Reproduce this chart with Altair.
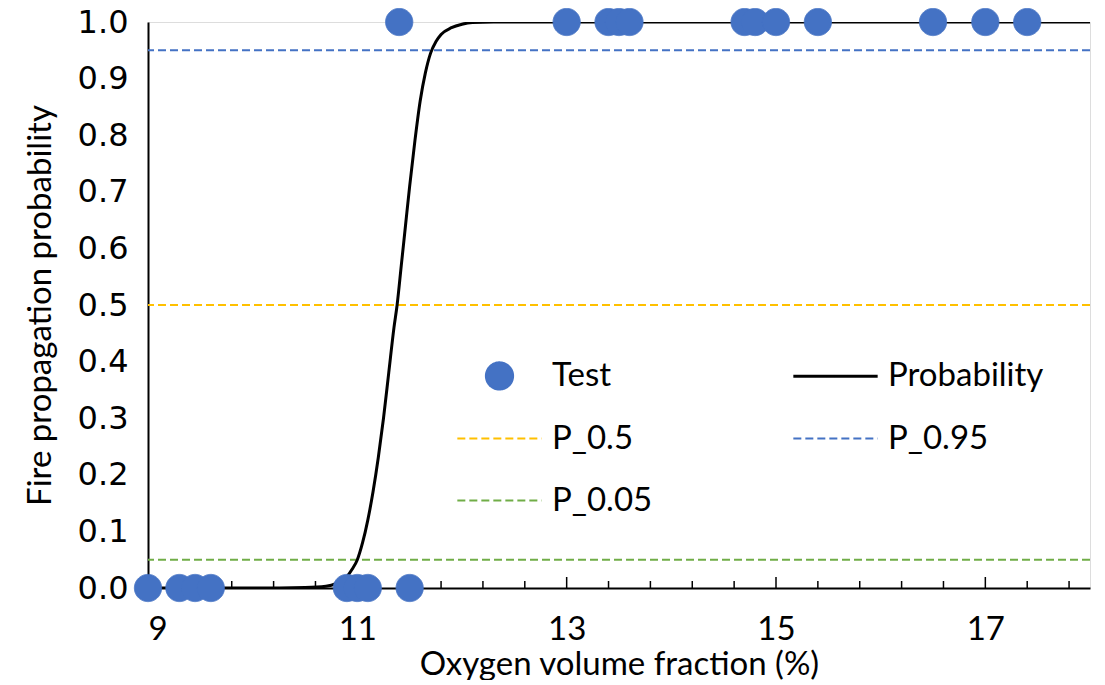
import altair as alt
import pandas as pd

# ---------------- data ----------------
TEST_X_NO_FIRE = [9.0, 9.3, 9.45, 9.6, 10.9, 11.0, 11.1, 11.5]
TEST_X_FIRE = [11.4, 13.0, 13.4, 13.5, 13.6, 14.7, 14.8, 15.0, 15.4, 16.5, 17.0, 17.4]

CURVE_X = [9.0, 10.0, 10.5, 10.7, 10.8, 10.9, 10.95, 11.0, 11.05, 11.1, 11.15, 11.2,
           11.25, 11.3, 11.35, 11.38, 11.42, 11.46, 11.5, 11.55, 11.6, 11.65, 11.7,
           11.75, 11.8, 11.9, 12.0, 12.1, 12.3, 13.0, 18.0]
CURVE_P = [0.0, 0.0, 0.001, 0.003, 0.008, 0.02, 0.033, 0.05, 0.08, 0.12, 0.17, 0.23,
           0.30, 0.38, 0.46, 0.50, 0.57, 0.64, 0.71, 0.79, 0.86, 0.91, 0.945,
           0.965, 0.978, 0.99, 0.996, 0.999, 1.0, 1.0, 1.0]

LEVEL_VALUES = [0.05, 0.5, 0.95]
LEVEL_NAMES = ["P_0.05", "P_0.5", "P_0.95"]

# legend entries (filled column by column: Test, P_0.5, P_0.05 | Probability, P_0.95)
SERIES = ["Test", "P_0.5", "P_0.05", "Probability", "P_0.95"]

X_MAJOR = [9, 11, 13, 15, 17]
X_MINOR = [9.4, 9.8, 10.2, 10.6, 11.4, 11.8, 12.2, 12.6, 13.4, 13.8, 14.2, 14.6,
           15.4, 15.8, 16.2, 16.6, 17.4, 17.8]
Y_TICKS = [0.0, 0.1, 0.2, 0.3, 0.4, 0.5, 0.6, 0.7, 0.8, 0.9, 1.0]

# ---------------- styles ----------------
BLUE, YELLOW, GREEN, BLACK = "#4472C4", "#FFC000", "#70AD47", "#000000"
LEVEL_COLORS = {"P_0.05": GREEN, "P_0.5": YELLOW, "P_0.95": BLUE}
SERIES_COLORS = [BLUE, YELLOW, GREEN, BLACK, BLUE]
LINE_PATH = "M-3.1,0H3.1"
THICK_PATH = "M-3.1,-0.04H3.1M-3.1,0.04H3.1"
SERIES_SHAPES = ["circle", LINE_PATH, LINE_PATH, THICK_PATH, LINE_PATH]
SERIES_DASHES = [[1, 0], [8, 4], [8, 4], [1, 0], [8, 4]]

FONT = "Lato"
NUM_FONT = "DejaVu Sans"
W, H = 942, 566

points = pd.DataFrame({
    "x": TEST_X_NO_FIRE + TEST_X_FIRE,
    "y": [0] * len(TEST_X_NO_FIRE) + [1] * len(TEST_X_FIRE),
    "series": ["Test"] * (len(TEST_X_NO_FIRE) + len(TEST_X_FIRE)),
})
curve = pd.DataFrame({"x": CURVE_X, "p": CURVE_P})
major = pd.DataFrame({"x": X_MAJOR})
minor = pd.DataFrame({"x": X_MINOR})

xscale = alt.Scale(domain=[9, 18], nice=False, zero=False)
yscale = alt.Scale(domain=[0, 1], nice=False)

x_axis = alt.Axis(values=X_MAJOR, title="Oxygen volume fraction (%)", grid=False,
                  ticks=False, labelFont=FONT, labelFontSize=33, labelColor="#000",
                  labelPadding=25, domainColor="#000", domainWidth=2,
                  titleFont=FONT, titleFontSize=33, titleFontWeight="normal",
                  titleColor="#000", titleBaseline="alphabetic", titleY=86)
y_axis = alt.Axis(values=Y_TICKS, format=".1f", title="Fire propagation probability",
                  grid=False, ticks=False, labelFont=NUM_FONT, labelFontSize=32,
                  labelColor="#000", labelPadding=20, domainColor="#000", domainWidth=2,
                  titleFont=FONT, titleFontSize=33, titleFontWeight="normal",
                  titleColor="#000", titleBaseline="alphabetic", titleX=-98, titleY=H / 2,
                  titleAngle=270)

base_x = alt.X("x:Q", scale=xscale, axis=x_axis)

# dashed probability levels
level_layers = []
for name, val in zip(LEVEL_NAMES, LEVEL_VALUES):
    level_layers.append(
        alt.Chart(pd.DataFrame({"p": [val]})).mark_rule(
            color=LEVEL_COLORS[name], strokeWidth=2, strokeDash=[8, 4]
        ).encode(y=alt.Y("p:Q", scale=yscale, axis=y_axis))
    )

# inward tick marks on the x axis
minor_ticks = alt.Chart(minor).mark_rule(color="#000", strokeWidth=1.5).encode(
    x=base_x, y=alt.value(H), y2=alt.value(H - 7))
major_ticks = alt.Chart(major).mark_rule(color="#000", strokeWidth=1.5).encode(
    x=base_x, y=alt.value(H), y2=alt.value(H - 11))

curve_layer = alt.Chart(curve).mark_line(
    color=BLACK, strokeWidth=3, interpolate="monotone", clip=True
).encode(x=base_x, y=alt.Y("p:Q", scale=yscale, axis=y_axis))

legend = alt.Legend(title=None, orient="none", legendX=335, legendY=337, columns=2,
                    columnPadding=136, rowPadding=28, padding=0,
                    labelFont=FONT, labelFontSize=33, labelColor="#000",
                    labelOffset=36, labelLimit=0, symbolSize=740,
                    symbolStrokeWidth=2)


def sc(rng):
    return alt.Scale(domain=SERIES, range=rng)


point_layer = alt.Chart(points).mark_point(
    filled=True, size=740, opacity=1, strokeWidth=1
).encode(
    x=base_x,
    y=alt.Y("y:Q", scale=yscale, axis=y_axis),
    fill=alt.Fill("series:N", scale=sc(SERIES_COLORS), legend=legend),
    stroke=alt.Stroke("series:N", scale=sc(SERIES_COLORS), legend=legend),
    shape=alt.Shape("series:N", scale=sc(SERIES_SHAPES), legend=legend),
    strokeDash=alt.StrokeDash("series:N", scale=sc(SERIES_DASHES), legend=legend),
)

chart = alt.layer(
    *level_layers, minor_ticks, major_ticks, curve_layer, point_layer
).properties(
    width=W, height=H,
    autosize=alt.AutoSizeParams(type="none"),
    padding={"left": 140, "top": 14, "right": 5, "bottom": 92},
).configure_view(
    stroke="#56667A", strokeWidth=2
).configure(background="white")

chart.save("out.html", embed_options={"renderer": "svg", "actions": False})
